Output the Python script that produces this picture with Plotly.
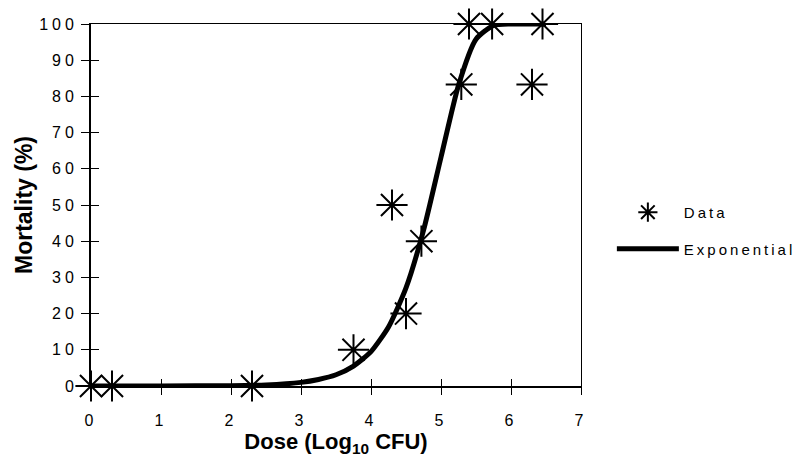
import plotly.graph_objects as go

# Observed data (dose in log10 CFU, mortality %)
data_dose = [0.0, 0.3, 2.3, 3.75, 4.3, 4.5, 4.72, 5.29, 5.4, 5.73, 6.3, 6.45]
data_mort = [0, 0, 0, 10, 50, 20, 40, 83.3, 100, 100, 83.3, 100]

# Fitted exponential curve
fit_dose = [0.0, 1.0, 2.0, 2.5, 3.0, 3.25, 3.5, 3.75, 4.0, 4.25, 4.5, 4.75, 5.0, 5.25, 5.5, 5.75, 6.0, 6.5]
fit_mort = [0.0, 0.0, 0.1, 0.3, 1.0, 1.8, 3.1, 5.5, 9.5, 16.3, 27.1, 43.0, 63.2, 83.1, 95.8, 99.6, 100, 100]

x_ticks = [0, 1, 2, 3, 4, 5, 6, 7]
y_ticks = [0, 10, 20, 30, 40, 50, 60, 70, 80, 90, 100]

FONT = "Arial, Liberation Sans, sans-serif"

fig = go.Figure()
fig.add_trace(go.Scatter(
    x=data_dose, y=data_mort, mode="markers", name="Data",
    marker=dict(symbol="asterisk-open", size=26, color="black",
                line=dict(color="black", width=2)),
    cliponaxis=False, legendgroup="a",
))
fig.add_trace(go.Scatter(
    x=fit_dose, y=fit_mort, mode="lines", name="Exponential",
    line=dict(color="black", width=5, shape="spline", smoothing=0.6),
    cliponaxis=False, legendgroup="b",
))
# invisible traces that activate the overlay axes (inside ticks, frame)
fig.add_trace(go.Scatter(x=[None], y=[None], xaxis="x2", yaxis="y2",
                         showlegend=False, hoverinfo="skip"))
fig.add_trace(go.Scatter(x=[None], y=[None], xaxis="x3", yaxis="y3",
                         showlegend=False, hoverinfo="skip"))

tickfont = dict(family=FONT, size=16, color="black")
base = dict(showgrid=False, zeroline=False, linecolor="black",
            tickcolor="black", tickwidth=1.2)

fig.update_layout(
    width=809, height=463,
    margin=dict(l=91, r=228, t=24, b=77),
    paper_bgcolor="white", plot_bgcolor="white",
    font=dict(family=FONT, color="black"),
    xaxis=dict(range=[0, 7], tickvals=x_ticks, ticks="outside", ticklen=7,
               showline=True, linewidth=1.6, tickfont=tickfont,
               ticklabelstandoff=12,
               title=dict(text="<b>Dose (Log<sub>10</sub> CFU)</b>",
                          font=dict(family=FONT, size=22), standoff=4),
               **base),
    yaxis=dict(range=[0, 100], tickvals=y_ticks, ticks="outside", ticklen=8,
               showline=True, linewidth=1.8, tickfont=tickfont,
               title=dict(text="<b>Mortality (%)</b>",
                          font=dict(family=FONT, size=23), standoff=12),
               **base),
    xaxis2=dict(range=[0, 7], tickvals=x_ticks, ticks="inside", ticklen=7,
                overlaying="x", matches="x", showticklabels=False,
                showline=False, **base),
    yaxis2=dict(range=[0, 100], tickvals=y_ticks, ticks="inside", ticklen=8,
                overlaying="y", matches="y", showticklabels=False,
                showline=False, **base),
    xaxis3=dict(range=[0, 7], side="top", overlaying="x", matches="x",
                ticks="", showticklabels=False, showline=True, linewidth=1.1,
                **base),
    yaxis3=dict(range=[0, 100], side="right", overlaying="y", matches="y",
                ticks="", showticklabels=False, showline=True, linewidth=1.1,
                **base),
    legend=dict(x=1.063, y=0.525, xanchor="left", yanchor="top",
                font=dict(family=FONT, size=15, color="black"),
                tracegroupgap=14, traceorder="grouped", itemwidth=62,
                bgcolor="rgba(0,0,0,0)"),
    showlegend=True,
)

post = ("var s=document.createElement('style');"
        "s.innerHTML='body{margin:0;overflow:hidden}"
        " .xtick text,.ytick text{letter-spacing:4px}"
        " .legendtext{letter-spacing:3px}"
        " .legend g,.legend .scrollbox{clip-path:none !important}';"
        "document.head.appendChild(s);")

fig.write_html("out.html", post_script=post,
               config={"displayModeBar": False})
